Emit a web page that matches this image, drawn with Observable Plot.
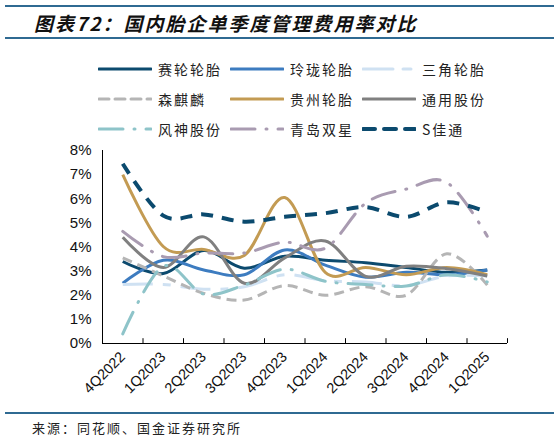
<!DOCTYPE html>
<html>
<head>
<meta charset="utf-8">
<script src="https://cdn.jsdelivr.net/npm/d3@7"></script>
<script src="https://cdn.jsdelivr.net/npm/@observablehq/plot@0.6"></script>
<style>
  body { margin: 0; background: #fff; }
  #wrap { position: relative; width: 559px; height: 440px; overflow: hidden; font-family: "Noto Sans CJK SC", sans-serif; color: #222; }
  .rule { position: absolute; left: 5px; right: 5px; height: 0; border-top: 2px solid #2f6a92; }
  #title { position: absolute; left: 34px; top: 13px; line-height: 20px; font-size: 19px; font-weight: bold; font-style: italic; letter-spacing: 2px; color: #111; white-space: nowrap; }
  .item { position: absolute; height: 20px; display: flex; align-items: center; font-size: 14px; letter-spacing: 2px; white-space: nowrap; }
  .item svg { margin-right: 6px; }
  #chart { position: absolute; left: 0; top: 130px; }
  #source { position: absolute; left: 32px; top: 420px; font-size: 13px; line-height: 16px; letter-spacing: 2px; white-space: nowrap; }
</style>
</head>
<body>
<div id="wrap">
  <div class="rule" style="top:5px"></div>
  <div id="title">图表72：国内胎企单季度管理费用率对比</div>
  <div class="rule" style="top:37px"></div>
  <div id="legend"></div>
  <div id="chart"></div>
  <div class="rule" style="top:412px"></div>
  <div id="source">来源：同花顺、国金证券研究所</div>
</div>
<script>
// quarters on the x axis
const quarters = ["4Q2022", "1Q2023", "2Q2023", "3Q2023", "4Q2023", "1Q2024", "2Q2024", "3Q2024", "4Q2024", "1Q2025"];

// management expense ratio, %
const sailun     = [3.40, 2.90, 3.85, 3.12, 3.62, 3.45, 3.35, 3.15, 2.95, 3.05];
const linglong   = [2.50, 3.45, 3.05, 2.85, 3.88, 3.25, 2.75, 2.95, 2.85, 3.05];
const sanjiao    = [2.45, 2.45, 2.25, 2.35, 2.85, 2.60, 2.55, 2.40, 2.80, 2.80];
const senqilin   = [3.55, 2.80, 2.08, 1.80, 2.40, 2.00, 2.35, 2.00, 3.72, 2.42];
const guizhou    = [7.00, 4.02, 3.90, 3.65, 6.05, 2.95, 3.15, 2.85, 3.15, 2.85];
const tongyong   = [4.40, 3.15, 4.42, 2.50, 3.55, 4.25, 2.78, 3.20, 3.10, 2.80];
const fengshen   = [0.40, 3.20, 2.05, 2.42, 3.08, 2.58, 2.45, 2.38, 2.85, 2.55];
const shuangxing = [4.65, 3.60, 3.75, 3.75, 4.20, 3.95, 5.82, 6.40, 6.68, 4.45];
const jiatong    = [7.45, 5.30, 5.35, 5.05, 5.25, 5.40, 5.65, 5.25, 5.85, 5.45];

const series = [
  {name: "赛轮轮胎", values: sailun},
  {name: "玲珑轮胎", values: linglong},
  {name: "三角轮胎", values: sanjiao},
  {name: "森麒麟", values: senqilin},
  {name: "贵州轮胎", values: guizhou},
  {name: "通用股份", values: tongyong},
  {name: "风神股份", values: fengshen},
  {name: "青岛双星", values: shuangxing},
  {name: "S佳通", values: jiatong}
];

// line styles per series
const styles = {
  "赛轮轮胎": {stroke: "#0c4a6e", width: 3},
  "玲珑轮胎": {stroke: "#3d7cc0", width: 3},
  "三角轮胎": {stroke: "#cfe1f2", width: 3, dash: "30,10,8,10"},
  "森麒麟":   {stroke: "#b5b5b5", width: 3, dash: "10,6"},
  "贵州轮胎": {stroke: "#c39b53", width: 3},
  "通用股份": {stroke: "#808080", width: 3},
  "风神股份": {stroke: "#8ec4c9", width: 3, dash: "24,11,1,11", cap: "round"},
  "青岛双星": {stroke: "#a99bb1", width: 3, dash: "24,11,1,11", cap: "round"},
  "S佳通":    {stroke: "#0b4a6e", width: 4, dash: "12,9"}
};

// legend, 3 columns
const legend = d3.select("#legend");
series.forEach((s, k) => {
  const st = styles[s.name];
  const item = legend.append("div").attr("class", "item")
    .style("left", (98 + (k % 3) * 132) + "px")
    .style("top", (59 + Math.floor(k / 3) * 30) + "px");
  const svg = item.append("svg").attr("width", 54).attr("height", 12);
  svg.append("line")
    .attr("x1", 1).attr("x2", 53).attr("y1", 6).attr("y2", 6)
    .attr("stroke", st.stroke)
    .attr("stroke-width", st.width)
    .attr("stroke-linecap", st.cap || "round")
    .attr("stroke-dasharray", st.dash || null);
  item.append("span").text(s.name);
});

const idx = d3.range(quarters.length);

const lineMarks = series.map(s => {
  const st = styles[s.name];
  return Plot.line(s.values, {
    x: (d, i) => i,
    y: d => d,
    stroke: st.stroke,
    strokeWidth: st.width,
    strokeDasharray: st.dash,
    strokeLinecap: st.cap || "butt",
    curve: "cardinal"
  });
});

const chart = Plot.plot({
  width: 559,
  height: 270,
  marginTop: 20,
  marginBottom: 57,
  marginLeft: 102,
  marginRight: 52,
  style: {fontFamily: "'Liberation Sans', Arial, sans-serif", color: "#111", background: "transparent", overflow: "visible"},
  x: {domain: [-0.5, quarters.length - 0.5]},
  y: {domain: [0, 8]},
  marks: [
    ...lineMarks,
    Plot.ruleY([0], {stroke: "#000"}),
    Plot.ruleX([-0.5], {stroke: "#000"}),
    Plot.ruleX(d3.range(quarters.length + 1).map(i => i - 0.5), {y1: 0, y2: 0.2, stroke: "#000"}),
    Plot.axisY({ticks: d3.range(0, 9), tickFormat: d => d + "%", tickSize: 0, tickPadding: 11, fontSize: 15, label: null}),
    Plot.axisX({ticks: idx, tickFormat: i => quarters[i], tickSize: 0, tickPadding: 11, tickRotate: -45, fontSize: 14.5, label: null})
  ]
});

document.querySelector("#chart").appendChild(chart);
</script>
</body>
</html>
